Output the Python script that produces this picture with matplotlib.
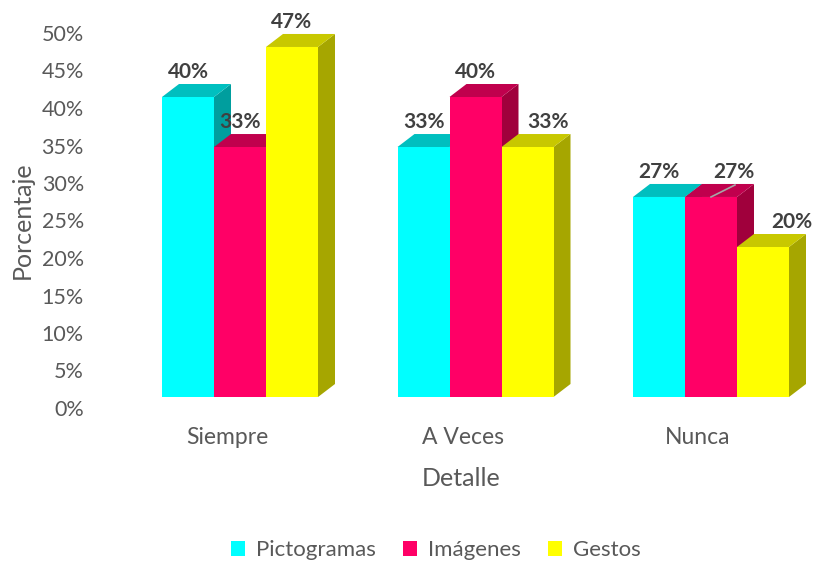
import matplotlib.pyplot as plt
from matplotlib.patches import Polygon, Patch

plt.rcParams['font.family'] = ['Lato', 'DejaVu Sans']

# Data
categories = ['Siempre', 'A Veces', 'Nunca']
series = ['Pictogramas', 'Imágenes', 'Gestos']
pictogramas = [40, 33.33, 26.67]
imagenes = [33.33, 40, 26.67]
gestos = [46.67, 33.33, 20]
yticks = [0, 5, 10, 15, 20, 25, 30, 35, 40, 45, 50]

values = [pictogramas, imagenes, gestos]

# colours: front, top, side
front_cols = ['#00FFFF', '#FF0066', '#FFFF00']
top_cols = ['#00BFBF', '#C0004D', '#C8C800']
side_cols = ['#009E9E', '#A0003C', '#A6A600']

W, H = 814, 566
fig = plt.figure(figsize=(W / 100, H / 100), dpi=100)

# axes placed in pixel terms; 1 category = 235.5 px, 1% = 7.5 px
px_cat = 235.5
px_pct = 7.5
ax_left, ax_right, ax_top, ax_bot = 95, 814, 20, 420
ax = fig.add_axes([ax_left / W, 1 - ax_bot / H, (ax_right - ax_left) / W, (ax_bot - ax_top) / H])
ax.set_xlim((ax_left - 240) / px_cat, (ax_right - 240) / px_cat)
ax.set_ylim((397 - ax_bot) / px_pct, (397 - ax_top) / px_pct)

bw = 52 / px_cat      # bar width
ddx = 17 / px_cat     # depth offset x
ddy = 13 / px_pct     # depth offset y
tick_shift = 11 / px_pct

# label offsets (px) for labels Excel moved sideways
label_dx = {(1, 2): 20, (2, 1): 23, (2, 2): 29}

for i, cat in enumerate(categories):
    for j in range(3):
        v = values[j][i]
        x0 = i + (j - 1.5) * bw
        x1 = x0 + bw
        side = Polygon([(x1, 0), (x1 + ddx, ddy), (x1 + ddx, v + ddy), (x1, v)],
                       closed=True, facecolor=side_cols[j], edgecolor='none', zorder=2)
        top = Polygon([(x0, v), (x0 + ddx, v + ddy), (x1 + ddx, v + ddy), (x1, v)],
                      closed=True, facecolor=top_cols[j], edgecolor='none', zorder=2)
        front = Polygon([(x0, 0), (x1, 0), (x1, v), (x0, v)],
                        closed=True, facecolor=front_cols[j], edgecolor='none', zorder=2)
        for p in (side, top, front):
            ax.add_patch(p)
        off = label_dx.get((i, j), 0) / px_cat
        lx = (x0 + x1) / 2 + off
        ly = v + 25 / px_pct
        ax.text(lx, ly, f'{round(v)}%', ha='center', va='center', fontsize=15,
                fontweight='bold', color='#404040', zorder=5)
        if (i, j) == (2, 1):
            ax.plot([(x0 + x1) / 2, (x0 + x1) / 2 + 24 / px_cat], [v, v + 12 / px_pct],
                    color='#A6A6A6', lw=1.2, zorder=4)

ax.set_yticks([t - tick_shift for t in yticks])
ax.set_yticklabels([f'{t}%' for t in yticks])
ax.set_xticks([i - 13 / px_cat for i in range(len(categories))])
ax.set_xticklabels(categories)
ax.tick_params(axis='both', length=0, labelcolor='#595959')
ax.tick_params(axis='y', pad=8, labelsize=15.5)
ax.tick_params(axis='x', pad=5, labelsize=16.5)
for s in ax.spines.values():
    s.set_visible(False)

fig.text(461 / W, 1 - 478 / H, 'Detalle', ha='center', va='center', fontsize=18, color='#595959')
fig.text(22 / W, 1 - 220 / H, 'Porcentaje', ha='center', va='center', rotation=90,
         fontsize=18, color='#595959')

handles = [Patch(facecolor=c, edgecolor='none') for c in front_cols]
fig.legend(handles, series, loc='center', bbox_to_anchor=(436 / W, 1 - 550 / H), ncol=3,
           frameon=False, fontsize=16, labelcolor='#595959', handlelength=0.65,
           handleheight=0.65, handletextpad=0.5, columnspacing=1.2)

fig.savefig('out.png', dpi=100)
